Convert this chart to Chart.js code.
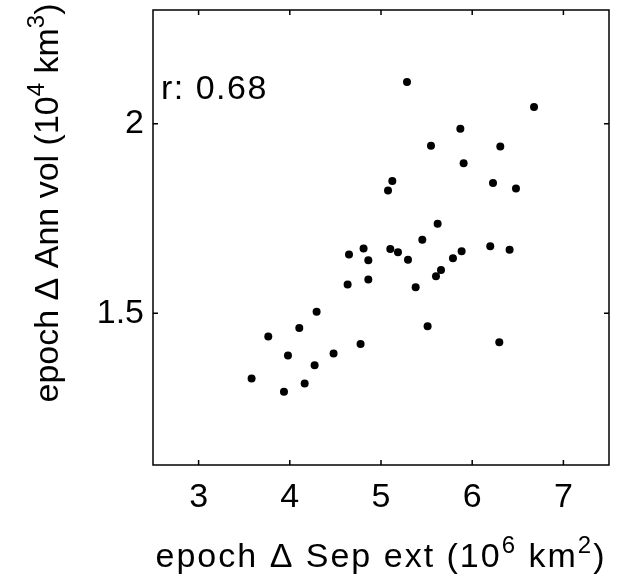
<!DOCTYPE html>
<html>
<head>
<meta charset="utf-8">
<script src="https://cdn.jsdelivr.net/npm/chart.js@4"></script>
<style>
  html, body { margin: 0; padding: 0; background: #fff; }
  canvas { display: block; }
</style>
</head>
<body>
<canvas id="scatter" width="617" height="579"></canvas>
<script>
// epoch change in September extent (10^6 km^2) vs annual volume (10^4 km^3)
const sepExt = [5.285, 5.548, 5.124, 5.077, 5.621, 5.453, 4.809, 4.649, 5.102, 5.186,
                4.861, 5.296, 6.678, 5.870, 6.308, 5.906, 6.228, 6.480, 6.198, 6.410,
                5.884, 5.789, 5.658, 5.603, 4.634, 4.861, 5.380, 4.294, 4.104, 3.764,
                5.511, 3.980, 4.480, 4.776, 4.272, 3.581, 4.163, 3.936, 6.297];
const annVol = [2.110, 1.942, 1.849, 1.824, 1.736, 1.694, 1.671, 1.655, 1.670, 1.661,
                1.640, 1.641, 2.044, 1.987, 1.940, 1.896, 1.844, 1.829, 1.677, 1.668,
                1.664, 1.645, 1.614, 1.598, 1.576, 1.589, 1.569, 1.504, 1.461, 1.439,
                1.466, 1.389, 1.394, 1.419, 1.363, 1.328, 1.315, 1.293, 1.424];
const xTicks = [3, 4, 5, 6, 7];
const yTicks = [1.5, 2];
const corrLabel = 'r: 0.68';

const FONT = '"Liberation Sans", Arial, Helvetica, sans-serif';
const points = sepExt.map((x, i) => ({ x: x, y: annVol[i] }));

// draw text with superscript pieces, centred on (cx, cy baseline)
function drawRich(ctx, parts, cx, cy, size, spacing) {
    const supSize = Math.round(size * 0.7);
    ctx.letterSpacing = spacing + 'px';
    let total = 0;
    parts.forEach(p => {
        ctx.font = (p.sup ? supSize : size) + 'px ' + FONT;
        p.w = ctx.measureText(p.t).width;
        total += p.w;
    });
    let x = cx - total / 2;
    ctx.textAlign = 'left';
    ctx.textBaseline = 'alphabetic';
    parts.forEach(p => {
        ctx.font = (p.sup ? supSize : size) + 'px ' + FONT;
        ctx.fillText(p.t, x, p.sup ? cy - size * 0.42 : cy);
        x += p.w;
    });
    ctx.letterSpacing = '0px';
}

function fixPadding(s) {
    s.paddingTop = 0; s.paddingBottom = 0;
    s.paddingLeft = 0; s.paddingRight = 0;
}

const frame = {
    id: 'frame',
    afterDraw(chart) {
        const ctx = chart.ctx;
        const a = chart.chartArea;
        const xs = chart.scales.x, ys = chart.scales.y;
        ctx.save();
        ctx.strokeStyle = '#000';
        ctx.lineWidth = 1.5;
        ctx.strokeRect(a.left, a.top, a.right - a.left, a.bottom - a.top);
        ctx.beginPath();
        const tl = 5;
        xTicks.forEach(v => {
            const px = xs.getPixelForValue(v);
            ctx.moveTo(px, a.bottom); ctx.lineTo(px, a.bottom - tl);
            ctx.moveTo(px, a.top); ctx.lineTo(px, a.top + tl);
        });
        yTicks.forEach(v => {
            const py = ys.getPixelForValue(v);
            ctx.moveTo(a.left, py); ctx.lineTo(a.left + tl, py);
            ctx.moveTo(a.right, py); ctx.lineTo(a.right - tl, py);
        });
        ctx.stroke();

        ctx.fillStyle = '#000';
        // correlation label
        ctx.font = '34px ' + FONT;
        ctx.letterSpacing = '1.5px';
        ctx.textAlign = 'left';
        ctx.textBaseline = 'alphabetic';
        ctx.fillText(corrLabel, a.left + 8, 99);
        ctx.letterSpacing = '0px';

        // x title
        drawRich(ctx, [
            { t: 'epoch \u0394 Sep ext (10' }, { t: '6', sup: true },
            { t: ' km' }, { t: '2', sup: true }, { t: ')' }
        ], (a.left + a.right) / 2, 567, 34, 2);

        // y title
        ctx.translate(58, 203);
        ctx.rotate(-Math.PI / 2);
        drawRich(ctx, [
            { t: 'epoch \u0394 Ann vol (10' }, { t: '4', sup: true },
            { t: ' km' }, { t: '3', sup: true }, { t: ')' }
        ], 0, 0, 34, 0);
        ctx.restore();
    }
};

new Chart(document.getElementById('scatter'), {
    type: 'scatter',
    data: {
        datasets: [{
            data: points,
            pointRadius: 4,
            pointBackgroundColor: '#000',
            pointBorderWidth: 0
        }]
    },
    options: {
        responsive: false,
        animation: false,
        layout: { padding: { top: 10, right: 8, left: 0, bottom: 0 } },
        plugins: { legend: { display: false }, tooltip: { enabled: false } },
        scales: {
            x: {
                type: 'linear',
                min: 2.5, max: 7.5,
                grid: { display: false, drawTicks: false },
                border: { display: false },
                ticks: {
                    padding: 12,
                    color: '#000', font: { family: FONT, size: 34 }
                },
                afterBuildTicks(s) { s.ticks = xTicks.map(v => ({ value: v })); },
                afterFit(s) { s.height = 114; fixPadding(s); }
            },
            y: {
                type: 'linear',
                min: 1.1, max: 2.3,
                grid: { display: false, drawTicks: false },
                border: { display: false },
                ticks: {
                    padding: 9,
                    color: '#000', font: { family: FONT, size: 34 },
                    callback: v => String(v)
                },
                afterBuildTicks(s) { s.ticks = yTicks.map(v => ({ value: v })); },
                afterFit(s) { s.width = 153; fixPadding(s); }
            }
        }
    },
    plugins: [frame]
});
</script>
</body>
</html>
